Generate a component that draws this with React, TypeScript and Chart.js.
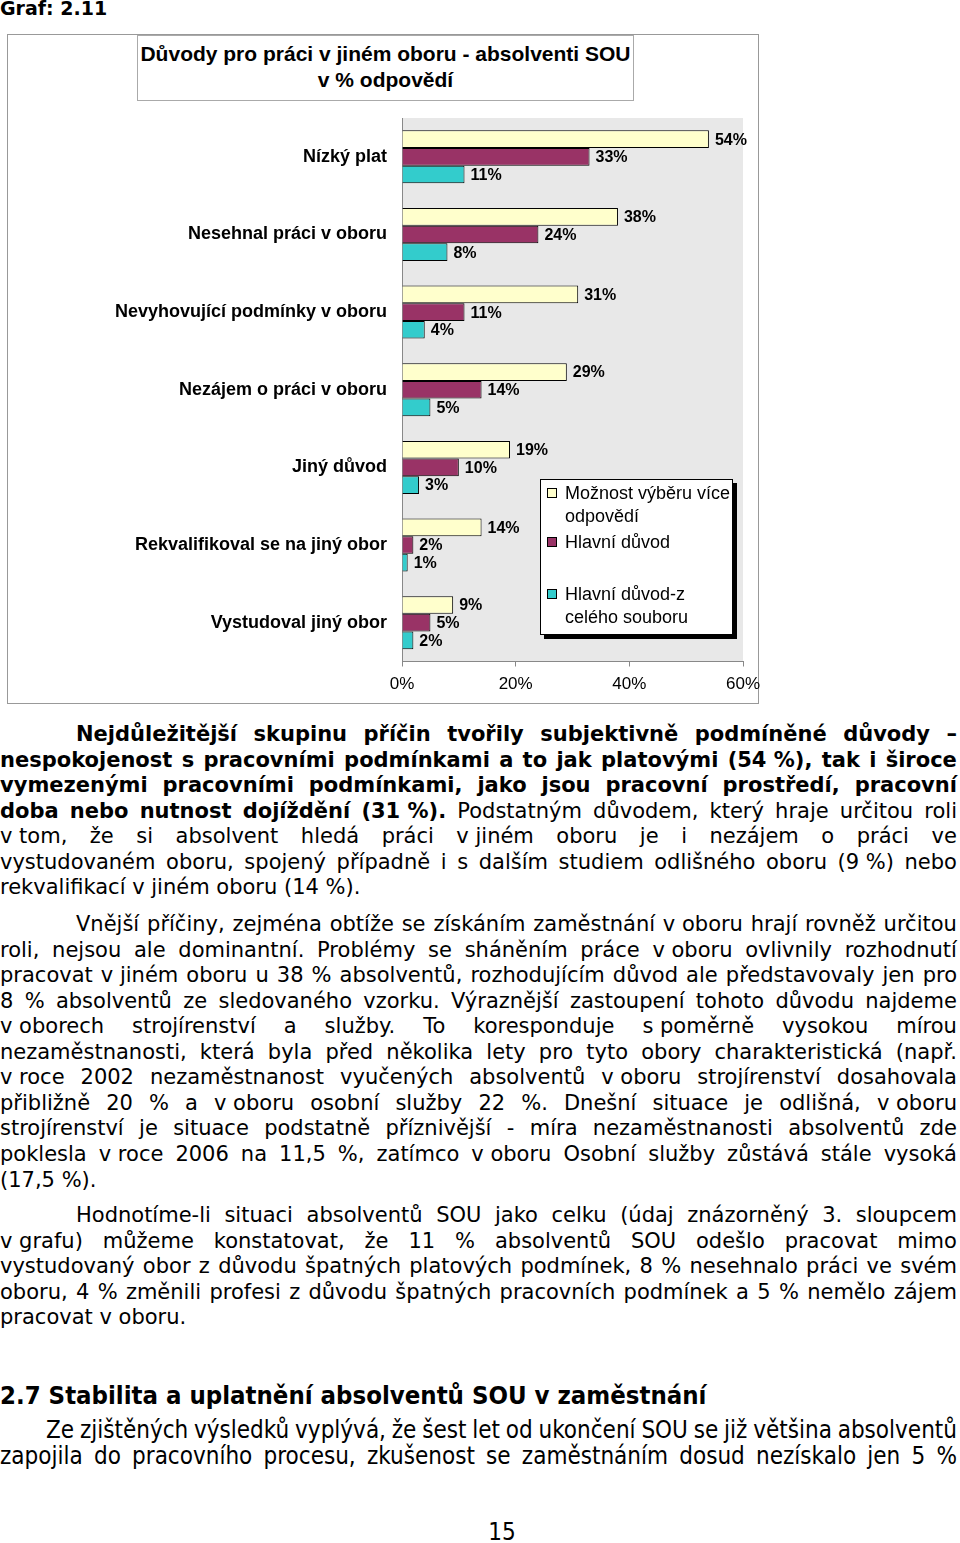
import React, { useEffect, useRef } from "react";
import { Chart, registerables } from "chart.js";

Chart.register(...registerables);

// ---------------- DATA ----------------
const categories = [
  "Nízký plat",
  "Nesehnal práci v oboru",
  "Nevyhovující podmínky v oboru",
  "Nezájem o práci v oboru",
  "Jiný důvod",
  "Rekvalifikoval se na jiný obor",
  "Vystudoval jiný obor",
];
const multiChoice = [54, 38, 31, 29, 19, 14, 9];
const mainReason = [33, 24, 11, 14, 10, 2, 5];
const mainReasonAll = [11, 8, 4, 5, 3, 1, 2];
const seriesNames = [
  "Možnost výběru více odpovědí",
  "Hlavní důvod",
  "Hlavní důvod-z celého souboru",
];
const seriesColors = ["#FFFFCC", "#993366", "#33CCCC"];
const xTicks = [0, 20, 40, 60];
const chartTitle = ["Důvody pro práci v jiném oboru - absolventi SOU", "v % odpovědí"];
const legendLines = [["Možnost výběru více", "odpovědí"], ["Hlavní důvod"], ["Hlavní důvod-z", "celého souboru"]];

// ---------------- TEXT ----------------
const para1 = [
  "**Nejdůležitější skupinu příčin tvořily subjektivně podmíněné důvody –**",
  "**nespokojenost s pracovními podmínkami a to jak platovými (54~%), tak i široce**",
  "**vymezenými pracovními podmínkami, jako jsou pracovní prostředí, pracovní**",
  "**doba nebo nutnost dojíždění (31~%).** Podstatným důvodem, který hraje určitou roli",
  "v~tom, že si absolvent hledá práci v~jiném oboru je i nezájem o práci ve",
  "vystudovaném oboru, spojený případně i s dalším studiem odlišného oboru (9~%) nebo",
  "rekvalifikací v~jiném oboru (14~%).",
];
const para2 = [
  "Vnější příčiny, zejména obtíže se získáním zaměstnání v~oboru hrají rovněž určitou",
  "roli, nejsou ale dominantní. Problémy se sháněním práce v~oboru ovlivnily rozhodnutí",
  "pracovat v~jiném oboru u 38 % absolventů, rozhodujícím důvod ale představovaly jen pro",
  "8 % absolventů ze sledovaného vzorku. Výraznější zastoupení tohoto důvodu najdeme",
  "v~oborech strojírenství a služby. To koresponduje s~poměrně vysokou mírou",
  "nezaměstnanosti, která byla před několika lety pro tyto obory charakteristická (např.",
  "v~roce 2002 nezaměstnanost vyučených absolventů v~oboru strojírenství dosahovala",
  "přibližně 20 % a v~oboru osobní služby 22 %. Dnešní situace je odlišná, v~oboru",
  "strojírenství je situace podstatně příznivější - míra nezaměstnanosti absolventů zde",
  "poklesla v~roce 2006 na 11,5 %, zatímco v~oboru Osobní služby zůstává stále vysoká",
  "(17,5~%).",
];
const para3 = [
  "Hodnotíme-li situaci absolventů SOU jako celku (údaj znázorněný 3. sloupcem",
  "v~grafu) můžeme konstatovat, že 11 % absolventů SOU odešlo pracovat mimo",
  "vystudovaný obor z důvodu špatných platových podmínek, 8 % nesehnalo práci ve svém",
  "oboru, 4 % změnili profesi z důvodu špatných pracovních podmínek a 5 % nemělo zájem",
  "pracovat v~oboru.",
];
const heading = "2.7 Stabilita a uplatnění absolventů SOU v zaměstnání";
const para4 = [
  "Ze zjištěných výsledků vyplývá, že šest let od ukončení SOU se již většina absolventů",
  "zapojila do pracovního procesu, zkušenost se zaměstnáním dosud nezískalo jen 5 %",
];

const ARIAL = '"Liberation Sans", Arial, sans-serif';
const VERDANA = '"DejaVu Sans", Verdana, sans-serif';
const CONDENSED = '"DejaVu Sans Condensed", "DejaVu Sans", sans-serif';

type Seg = { t: string; b: boolean };
function parse(line: string): Seg[] {
  return line
    .split("**")
    .map((t, i) => ({ t: t.replace(/~/g, "\u00a0"), b: i % 2 === 1 }))
    .filter((s) => s.t.length > 0);
}

function TextLine(props: {
  text: string;
  top: number;
  indent: number;
  justify: boolean;
  family: string;
  size: number;
  lh: number;
  stretch?: string;
}) {
  const { text, top, indent, justify, family, size, lh, stretch } = props;
  const segs = parse(text);
  const base: React.CSSProperties = {
    position: "absolute",
    left: indent,
    top,
    width: 957 - indent,
    height: lh,
    lineHeight: lh + "px",
    whiteSpace: "nowrap",
    fontFamily: family,
    fontSize: size,
    fontStretch: stretch || "normal",
    color: "#000",
  };
  if (justify) {
    const words: { w: string; b: boolean }[] = [];
    segs.forEach((s) =>
      s.t
        .split(" ")
        .filter((w) => w.length > 0)
        .forEach((w) => words.push({ w, b: s.b }))
    );
    return (
      <div style={{ ...base, display: "flex", justifyContent: "space-between" }}>
        {words.map((x, i) => (
          <span key={i} style={{ fontWeight: x.b ? "bold" : "normal" }}>
            {x.w}
          </span>
        ))}
      </div>
    );
  }
  return (
    <div style={base}>
      {segs.map((s, i) => (
        <span key={i} style={{ fontWeight: s.b ? "bold" : "normal" }}>
          {s.t}
        </span>
      ))}
    </div>
  );
}

function Paragraph(props: {
  lines: string[];
  firstCenter: number;
  step: number;
  indent: number;
  family: string;
  size: number;
  stretch?: string;
  lastJustify?: boolean;
}) {
  const { lines, firstCenter, step, indent, family, size, stretch, lastJustify } = props;
  return (
    <>
      {lines.map((l, i) => (
        <TextLine
          key={i}
          text={l}
          top={Math.round(firstCenter + i * step - 13)}
          indent={i === 0 ? indent : 0}
          justify={i < lines.length - 1 || !!lastJustify}
          family={family}
          size={size}
          lh={26}
          stretch={stretch}
        />
      ))}
    </>
  );
}

function BarChart() {
  const ref = useRef<HTMLCanvasElement>(null);
  useEffect(() => {
    if (!ref.current) return;
    const plotBg = {
      id: "plotBg",
      beforeDraw(chart: any) {
        const { ctx, chartArea: a } = chart;
        ctx.save();
        ctx.fillStyle = "#e8e8e8";
        ctx.fillRect(a.left, a.top, a.width, a.height);
        ctx.restore();
      },
    };
    const valueLabels = {
      id: "valueLabels",
      afterDatasetsDraw(chart: any) {
        const ctx = chart.ctx;
        ctx.save();
        ctx.font = "bold 16px " + ARIAL;
        ctx.fillStyle = "#000";
        ctx.textAlign = "left";
        ctx.textBaseline = "middle";
        chart.data.datasets.forEach((ds: any, i: number) => {
          const meta = chart.getDatasetMeta(i);
          meta.data.forEach((el: any, j: number) => {
            ctx.fillText(ds.data[j] + "%", el.x + 6, el.y + 1);
          });
        });
        ctx.restore();
      },
    };
    const seriesData = [multiChoice, mainReason, mainReasonAll];
    const chart = new Chart(ref.current, {
      type: "bar",
      data: {
        labels: categories,
        datasets: seriesNames.map((n, i) => ({
          label: n,
          data: seriesData[i],
          backgroundColor: seriesColors[i],
          borderColor: "#000",
          borderWidth: 1,
          categoryPercentage: 0.683,
          barPercentage: 1,
        })),
      },
      options: {
        indexAxis: "y",
        animation: false,
        responsive: false,
        maintainAspectRatio: false,
        layout: { padding: { left: 0, right: 45, top: 83, bottom: 0 } },
        plugins: {
          legend: { display: false },
          title: { display: false },
          tooltip: { enabled: false },
        },
        scales: {
          y: {
            grid: { display: false, drawTicks: false },
            border: { display: true, color: "#888", width: 1 },
            ticks: {
              color: "#000",
              font: { family: ARIAL, size: 18, weight: "bold" },
              padding: 15,
            },
            afterFit(s: any) {
              s.width = 394;
            },
          },
          x: {
            min: 0,
            max: 60,
            afterBuildTicks(s: any) {
              s.ticks = xTicks.map((v) => ({ value: v }));
            },
            grid: {
              display: true,
              drawOnChartArea: false,
              drawTicks: true,
              tickLength: 5,
              color: "#888",
            },
            border: { display: true, color: "#888", width: 1 },
            ticks: {
              color: "#000",
              font: { family: ARIAL, size: 17 },
              padding: 8,
              maxRotation: 0,
              autoSkip: false,
              callback: (v: any) => v + "%",
            },
            afterFit(s: any) {
              s.height = 40.5;
            },
          },
        },
      } as any,
      plugins: [plotBg, valueLabels],
    });
    return () => chart.destroy();
  }, []);
  return (
    <canvas
      ref={ref}
      width={780}
      height={667}
      style={{ position: "absolute", left: 8, top: 35, width: 780, height: 667, display: "block" }}
    />
  );
}

function Legend() {
  const tops = [[493, 515.5], [542], [594, 616.5]];
  return (
    <div
      style={{
        position: "absolute",
        left: 540,
        top: 479,
        width: 193,
        height: 156,
        boxSizing: "border-box",
        border: "1px solid #000",
        background: "#fff",
        boxShadow: "4px 4px 0 #000",
      }}
    >
      {legendLines.map((lines, i) => (
        <React.Fragment key={i}>
          <div
            style={{
              position: "absolute",
              left: 6,
              top: tops[i][0] - 479 - 6,
              width: 10,
              height: 10,
              boxSizing: "border-box",
              border: "1px solid #000",
              background: seriesColors[i],
            }}
          />
          {lines.map((t, k) => (
            <div
              key={k}
              style={{
                position: "absolute",
                left: 24,
                top: tops[i][k] - 479 - 12,
                height: 22,
                lineHeight: "22px",
                whiteSpace: "nowrap",
                fontFamily: ARIAL,
                fontSize: 18,
                color: "#000",
              }}
            >
              {t}
            </div>
          ))}
        </React.Fragment>
      ))}
    </div>
  );
}

export default function App() {
  return (
    <div
      style={{
        position: "absolute",
        left: 0,
        top: 0,
        width: 960,
        height: 1543,
        overflow: "hidden",
        background: "#fff",
      }}
    >
      <div
        style={{
          position: "absolute",
          left: 0,
          top: -3,
          fontFamily: VERDANA,
          fontWeight: "bold",
          fontSize: 19,
          lineHeight: "22px",
          whiteSpace: "nowrap",
        }}
      >
        Graf: 2.11
      </div>

      <div
        style={{
          position: "absolute",
          left: 7,
          top: 34,
          width: 752,
          height: 670,
          boxSizing: "border-box",
          border: "1px solid #999",
        }}
      />
      <div
        style={{
          position: "absolute",
          left: 137,
          top: 35,
          width: 497,
          height: 66,
          boxSizing: "border-box",
          border: "1px solid #aaa",
          paddingTop: 5,
          textAlign: "center",
          fontFamily: ARIAL,
          fontWeight: "bold",
          fontSize: 21,
          lineHeight: "26px",
          color: "#000",
        }}
      >
        {chartTitle.map((t, i) => (
          <div key={i} style={{ whiteSpace: "nowrap" }}>
            {t}
          </div>
        ))}
      </div>
      <BarChart />
      <Legend />

      <Paragraph lines={para1} firstCenter={734} step={25.5} indent={76} family={VERDANA} size={21} />
      <Paragraph lines={para2} firstCenter={924} step={25.55} indent={76} family={VERDANA} size={21} />
      <Paragraph lines={para3} firstCenter={1215} step={25.5} indent={76} family={VERDANA} size={21} />

      <div
        style={{
          position: "absolute",
          left: 0,
          top: 1395 - 16,
          height: 32,
          lineHeight: "32px",
          whiteSpace: "nowrap",
          fontFamily: CONDENSED,
          fontStretch: "condensed",
          fontWeight: "bold",
          fontSize: 25.5,
          color: "#000",
        }}
      >
        {heading}
      </div>
      <Paragraph
        lines={para4}
        firstCenter={1430}
        step={26}
        indent={46}
        family={CONDENSED}
        size={24}
        stretch="condensed"
        lastJustify={true}
      />
      <div
        style={{
          position: "absolute",
          left: 480,
          top: 1532 - 15,
          width: 44,
          height: 30,
          lineHeight: "30px",
          textAlign: "center",
          fontFamily: CONDENSED,
          fontStretch: "condensed",
          fontSize: 24,
          color: "#000",
        }}
      >
        15
      </div>
    </div>
  );
}
